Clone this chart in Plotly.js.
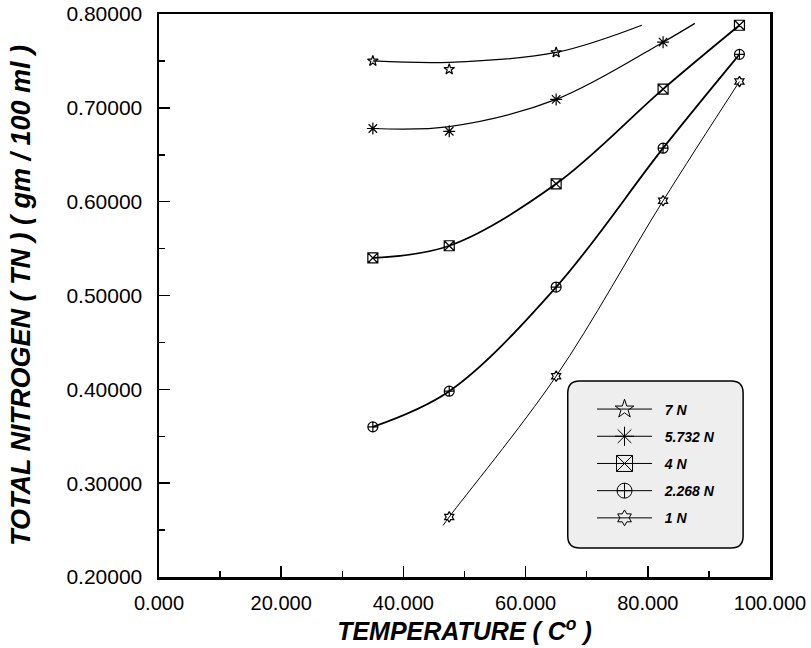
<!DOCTYPE html>
<html>
<head>
<meta charset="utf-8">
<script src="https://cdn.plot.ly/plotly-3.0.1.min.js"></script>
<style>html,body{margin:0;padding:0;background:#fff;}#chart{width:811px;height:648px;}</style>
</head>
<body>
<div id="chart"></div>
<script>
// ---- data ----
const temperature = [35, 47.5, 65, 82.5, 95];
const tn7N = [0.750, 0.741, 0.759];
const tn5732N = [0.678, 0.675, 0.709, 0.770];
const tn4N = [0.540, 0.553, 0.619, 0.720, 0.788];
const tn2268N = [0.360, 0.398, 0.509, 0.657, 0.757];
const temp1N = [47.5, 65, 82.5, 95];
const tn1N = [0.264, 0.414, 0.601, 0.728];

// fitted curves (knots)
const fit7NT = [35, 47.5, 65, 79];
const fit7N = [0.750, 0.7485, 0.759, 0.788];
const fit5732NT = [35, 47.5, 65, 82.5, 87.7];
const fit5732N = [0.678, 0.680, 0.709, 0.770, 0.790];
const fit1NT = [46.5, 47.5, 65, 82.5, 95];
const fit1N = [0.255, 0.264, 0.414, 0.601, 0.728];

const seriesNames = ['7 N', '5.732 N', '4 N', '2.268 N', '1 N'];
const xTicks = [0, 20, 40, 60, 80, 100];
const yTicks = [0.2, 0.3, 0.4, 0.5, 0.6, 0.7, 0.8];

const FONT = 'Liberation Sans, Arial, sans-serif';
const BLACK = '#000';

const symbols = ['star-open', 'asterisk-open', 'square-x-open', 'circle-cross-open', 'hexagram-open'];
const plotSizes = [8, 10, 10, 10, 8];
const legSizes = [14, 16, 16, 15, 12];
const lineW = [1.3, 1.2, 1.8, 1.8, 1.0];

const curves = [
  [fit7NT, fit7N],
  [fit5732NT, fit5732N],
  [temperature, tn4N],
  [temperature, tn2268N],
  [fit1NT, fit1N]
];
const points = [
  [temperature.slice(0, tn7N.length), tn7N],
  [temperature.slice(0, tn5732N.length), tn5732N],
  [temperature, tn4N],
  [temperature, tn2268N],
  [temp1N, tn1N]
];

const traces = [];
for (let i = 0; i < 5; i++) {
  traces.push({
    x: curves[i][0], y: curves[i][1], mode: 'lines', type: 'scatter',
    line: {color: BLACK, width: lineW[i], shape: 'spline', smoothing: 1},
    showlegend: false, hoverinfo: 'skip'
  });
  traces.push({
    x: points[i][0], y: points[i][1], mode: 'markers', type: 'scatter',
    marker: {symbol: symbols[i], size: plotSizes[i], color: BLACK, line: {color: BLACK, width: 1.2}},
    showlegend: false
  });
}
// legend entries
for (let i = 0; i < 5; i++) {
  traces.push({
    x: [null], y: [null], mode: 'lines+markers', type: 'scatter',
    name: '\u00A0\u00A0<b><i>' + seriesNames[i] + '</i></b>',
    legendgroup: 'g' + i,
    line: {color: BLACK, width: 1},
    marker: {symbol: symbols[i], size: legSizes[i], color: BLACK, line: {color: BLACK, width: 1}},
    showlegend: true
  });
}

// rounded legend box in paper coords
const bx0 = 0.669, bx1 = 0.956, by0 = 0.0515, by1 = 0.348;
const rx = 12 / 611, ry = 12 / 563;
const boxPath = `M ${bx0 + rx},${by1} L ${bx1 - rx},${by1} Q ${bx1},${by1} ${bx1},${by1 - ry} ` +
  `L ${bx1},${by0 + ry} Q ${bx1},${by0} ${bx1 - rx},${by0} L ${bx0 + rx},${by0} ` +
  `Q ${bx0},${by0} ${bx0},${by0 + ry} L ${bx0},${by1 - ry} Q ${bx0},${by1} ${bx0 + rx},${by1} Z`;

const layout = {
  width: 811, height: 648,
  margin: {l: 159, r: 41, t: 14, b: 71},
  paper_bgcolor: '#fff', plot_bgcolor: '#fff',
  font: {family: FONT, color: BLACK},
  showlegend: true,
  legend: {
    x: 0.7087, y: 0.326, xanchor: 'left', yanchor: 'top',
    bgcolor: 'rgba(0,0,0,0)', borderwidth: 0,
    font: {family: FONT, size: 14, color: BLACK},
    itemwidth: 55, tracegroupgap: 6, traceorder: 'grouped'
  },
  xaxis: {
    range: [0, 100], tickvals: xTicks, tickformat: '.3f',
    ticks: 'inside', ticklen: 11, tickwidth: 1.5, tickcolor: BLACK,
    minor: {dtick: 10, ticks: 'inside', ticklen: 6, tickwidth: 1.5, tickcolor: BLACK},
    showline: true, linewidth: 2.5, linecolor: BLACK, mirror: true,
    showgrid: false, zeroline: false,
    tickfont: {family: FONT, size: 20, color: BLACK},
    ticklabelstandoff: 6,
    title: {text: '<b><i>TEMPERATURE ( C<sup>o</sup> )</i></b>', font: {family: FONT, size: 25, color: BLACK}, standoff: 2}
  },
  yaxis: {
    range: [0.2, 0.8], tickvals: yTicks, tickformat: '.5f',
    ticks: 'inside', ticklen: 11, tickwidth: 1.5, tickcolor: BLACK,
    minor: {dtick: 0.05, ticks: 'inside', ticklen: 6, tickwidth: 1.5, tickcolor: BLACK},
    showline: true, linewidth: 2.5, linecolor: BLACK, mirror: true,
    showgrid: false, zeroline: false,
    tickfont: {family: FONT, size: 21, color: BLACK},
    ticklabelstandoff: 10,
    title: {text: '<b><i>TOTAL NITROGEN ( TN ) ( gm / 100 ml )</i></b>', font: {family: FONT, size: 27, color: BLACK}, standoff: 28}
  },
  shapes: [{
    type: 'path', xref: 'paper', yref: 'paper', path: boxPath,
    fillcolor: '#eeeeee', line: {color: BLACK, width: 1.5}, layer: 'below'
  }]
};

Plotly.newPlot('chart', traces, layout, {displayModeBar: false, staticPlot: true});
</script>
</body>
</html>
